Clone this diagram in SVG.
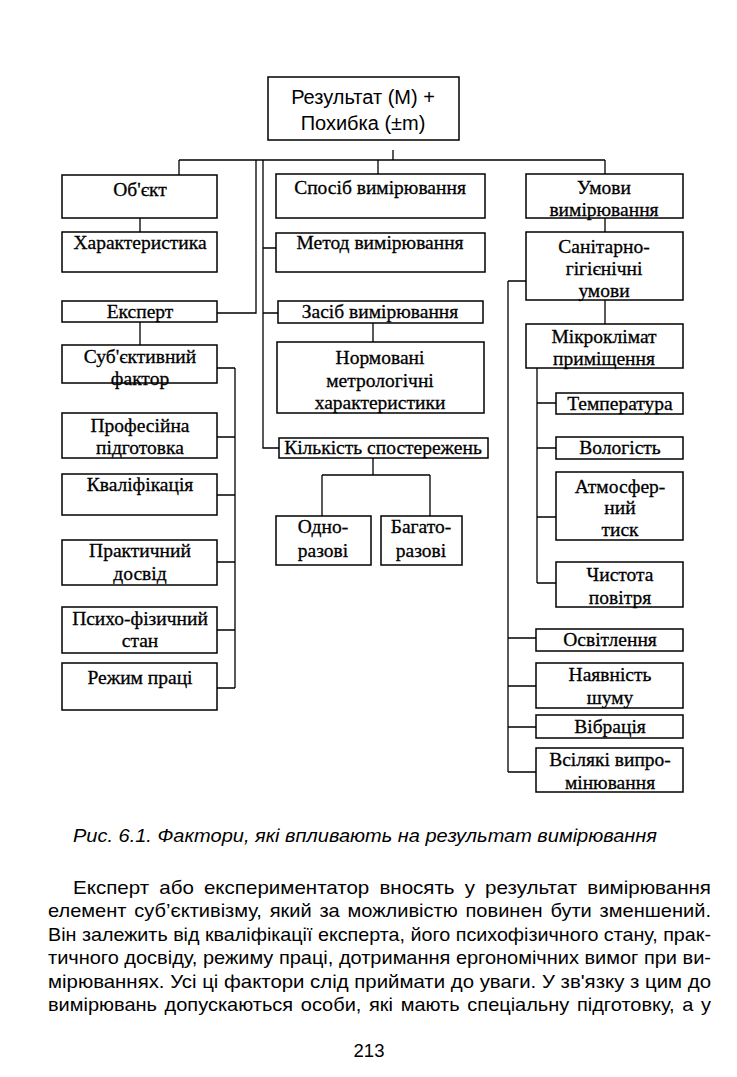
<svg xmlns="http://www.w3.org/2000/svg" width="737" height="1077" viewBox="0 0 737 1077">
<style>
.b{fill:#fff;stroke:#000;stroke-width:1.5}
.t{font-family:"Liberation Serif","Times New Roman",serif;font-size:19.5px;fill:#000;text-anchor:middle;stroke:#000;stroke-width:0.3}
.s{font-family:"Liberation Sans",Arial,sans-serif;font-size:20px;fill:#000;text-anchor:middle}
.p{font-family:"Liberation Sans",Arial,sans-serif;font-size:18.5px;fill:#000}
.c{fill:none;stroke:#000;stroke-width:1.3}
</style>
<rect width="737" height="1077" fill="#fff"/>
<g id="connectors" class="c">
<path d="M393 150V160M179 160H605M179 160V175M378 160V174M605 160V174"/>
<path d="M256 160V313H217M263 160V448H279M263 248H276M263 313H278"/>
<path d="M140 218V232M140 322V345"/>
<path d="M235 368V688M217 368H235M217 437H235M217 495H235M217 562H235M217 630H235M217 688H235"/>
<path d="M373 323V342M373 458V475M322 475H430M322 475V516M430 475V516"/>
<path d="M605 218V232M605 300V324"/>
<path d="M508 281V772M508 281H526M508 638H536M508 686H536M508 727H536M508 772H536"/>
<path d="M537 368V583M537 403H556M537 448H556M537 517H556M537 583H556"/>
</g>
<g id="result"><rect class="b" x="268" y="77" width="191" height="63"/><text class="s" x="363" y="104">Результат (М) +</text><text class="s" x="363" y="130">Похибка (±m)</text></g>
<g id="object"><rect class="b" x="62" y="175" width="155" height="43"/><text class="t" x="140" y="196">Об'єкт</text></g>
<g id="characteristic"><rect class="b" x="62" y="232" width="155" height="40"/><text class="t" x="140" y="249">Характеристика</text></g>
<g id="expert"><rect class="b" x="62" y="301" width="155" height="21"/><text class="t" x="140" y="318">Експерт</text></g>
<g id="subjective"><rect class="b" x="62" y="345" width="155" height="38"/><text class="t" x="140" y="363">Суб'єктивний</text><text class="t" x="140" y="385">фактор</text></g>
<g id="training"><rect class="b" x="62" y="413" width="155" height="45"/><text class="t" x="140" y="432">Професійна</text><text class="t" x="140" y="454">підготовка</text></g>
<g id="qualification"><rect class="b" x="62" y="474" width="155" height="41"/><text class="t" x="140" y="491">Кваліфікація</text></g>
<g id="experience"><rect class="b" x="62" y="540" width="155" height="45"/><text class="t" x="140" y="557">Практичний</text><text class="t" x="140" y="580">досвід</text></g>
<g id="psycho"><rect class="b" x="62" y="607" width="155" height="46"/><text class="t" x="140" y="625">Психо-фізичний</text><text class="t" x="140" y="647">стан</text></g>
<g id="workmode"><rect class="b" x="62" y="663" width="155" height="47"/><text class="t" x="140" y="684">Режим праці</text></g>
<g id="method"><rect class="b" x="276" y="174" width="209" height="44"/><text class="t" x="380" y="194">Спосіб вимірювання</text></g>
<g id="method2"><rect class="b" x="276" y="233" width="209" height="39"/><text class="t" x="380" y="249">Метод вимірювання</text></g>
<g id="instrument"><rect class="b" x="278" y="301" width="205" height="22"/><text class="t" x="380" y="318">Засіб вимірювання</text></g>
<g id="normed"><rect class="b" x="277" y="342" width="207" height="71"/><text class="t" x="380" y="364">Нормовані</text><text class="t" x="380" y="387">метрологічні</text><text class="t" x="380" y="409">характеристики</text></g>
<g id="count"><rect class="b" x="279" y="438" width="209" height="20"/><text class="t" x="383" y="454">Кількість спостережень</text></g>
<g id="single"><rect class="b" x="276" y="516" width="95" height="49"/><text class="t" x="323" y="533">Одно-</text><text class="t" x="323" y="557">разові</text></g>
<g id="multiple"><rect class="b" x="381" y="516" width="81" height="49"/><text class="t" x="421" y="533">Багато-</text><text class="t" x="421" y="557">разові</text></g>
<g id="conditions"><rect class="b" x="526" y="174" width="157" height="44"/><text class="t" x="604" y="194">Умови</text><text class="t" x="604" y="216">вимірювання</text></g>
<g id="sanitary"><rect class="b" x="526" y="232" width="157" height="68"/><text class="t" x="604" y="253">Санітарно-</text><text class="t" x="604" y="275">гігієнічні</text><text class="t" x="604" y="297">умови</text></g>
<g id="microclimate"><rect class="b" x="526" y="324" width="157" height="44"/><text class="t" x="604" y="343">Мікроклімат</text><text class="t" x="604" y="365">приміщення</text></g>
<g id="temperature"><rect class="b" x="556" y="393" width="127" height="21"/><text class="t" x="620" y="410">Температура</text></g>
<g id="humidity"><rect class="b" x="556" y="437" width="127" height="22"/><text class="t" x="620" y="454">Вологість</text></g>
<g id="pressure"><rect class="b" x="556" y="472" width="127" height="68"/><text class="t" x="620" y="493">Атмосфер-</text><text class="t" x="620" y="514">ний</text><text class="t" x="620" y="536">тиск</text></g>
<g id="purity"><rect class="b" x="556" y="562" width="127" height="45"/><text class="t" x="620" y="581">Чистота</text><text class="t" x="620" y="604">повітря</text></g>
<g id="lighting"><rect class="b" x="536" y="629" width="147" height="22"/><text class="t" x="610" y="646">Освітлення</text></g>
<g id="noise"><rect class="b" x="536" y="663" width="147" height="45"/><text class="t" x="610" y="681">Наявність</text><text class="t" x="610" y="704">шуму</text></g>
<g id="vibration"><rect class="b" x="536" y="715" width="147" height="23"/><text class="t" x="610" y="733">Вібрація</text></g>
<g id="radiation"><rect class="b" x="536" y="748" width="147" height="44"/><text class="t" x="610" y="766">Всілякі випро-</text><text class="t" x="610" y="789">мінювання</text></g>
<g id="caption"><text class="p" x="73" y="842" font-size="17.5" font-style="italic" textLength="584" lengthAdjust="spacingAndGlyphs">Рис. 6.1. Фактори, які впливають на результат вимірювання</text></g>
<g id="body">
<text class="p" x="73" y="894" textLength="638" lengthAdjust="spacingAndGlyphs" word-spacing="4">Експерт або експериментатор вносять у результат вимірювання</text>
<text class="p" x="48" y="917" textLength="663" lengthAdjust="spacingAndGlyphs" word-spacing="2">елемент суб’єктивізму, який за можливістю повинен бути зменшений.</text>
<text class="p" x="48" y="941" textLength="663" lengthAdjust="spacingAndGlyphs">Він залежить від кваліфікації експерта, його психофізичного стану, прак-</text>
<text class="p" x="48" y="964" textLength="663" lengthAdjust="spacingAndGlyphs">тичного досвіду, режиму праці, дотримання ергономічних вимог при ви-</text>
<text class="p" x="48" y="988" textLength="663" lengthAdjust="spacingAndGlyphs">мірюваннях. Усі ці фактори слід приймати до уваги. У зв'язку з цим до</text>
<text class="p" x="48" y="1011" textLength="663" lengthAdjust="spacingAndGlyphs" word-spacing="2">вимірювань допускаються особи, які мають спеціальну підготовку, а у</text>
<text class="p" x="369" y="1057" text-anchor="middle">213</text>
</g>
</svg>
